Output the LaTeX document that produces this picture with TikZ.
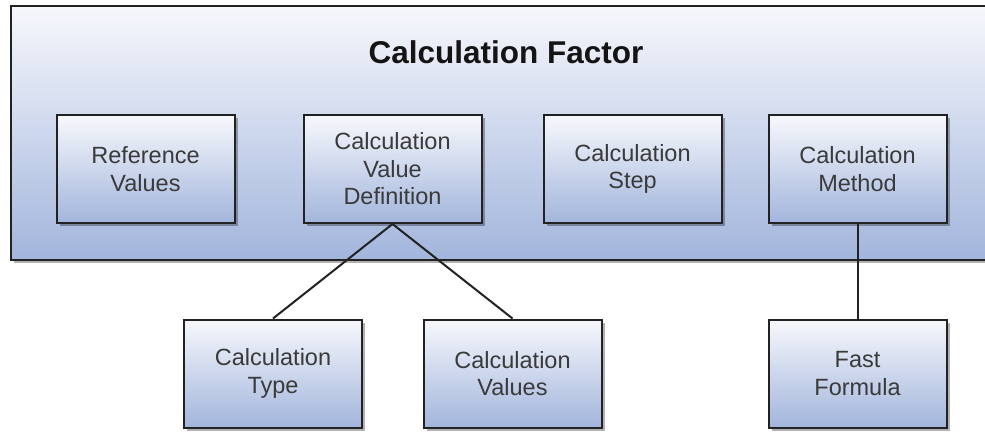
\documentclass[tikz,border=0pt]{standalone}
\usepackage{fontspec}
\setmainfont{Liberation Sans}
\usetikzlibrary{shadows}
\definecolor{topc}{HTML}{F7F8FC}
\definecolor{botc}{HTML}{A2B5DC}
\definecolor{edgec}{HTML}{222222}
\definecolor{txtc}{HTML}{3A3A3A}
\begin{document}
\begin{tikzpicture}[x=1pt,y=-1pt,
  blk/.style={rectangle, draw=edgec, line width=2pt, top color=topc, bottom color=botc,
    minimum width=178pt, minimum height=108pt, align=center, text=txtc,
    font=\fontsize{23.5}{27.5}\selectfont, inner sep=0pt,
    drop shadow={shadow xshift=3pt, shadow yshift=-3pt, fill=black, opacity=0.3}},
  conn/.style={draw=edgec, line width=2pt}]
\clip (0,0) rectangle (985,436);
\fill[white] (0,0) rectangle (985,436);
% outer box
\node[rectangle, draw=edgec, line width=2pt, top color=topc, bottom color=botc,
  minimum width=990pt, minimum height=254pt, inner sep=0pt, anchor=north west,
  drop shadow={shadow xshift=3pt, shadow yshift=-3pt, fill=black, opacity=0.3}]
  (outer) at (10,5) {};
\node[font=\bfseries\fontsize{31.5}{36}\selectfont, text=black!92] (title) at (506,52) {Calculation Factor};
% inner nodes
\node[blk] (ref) at (145.5,169) {Reference\\Values};
\node[blk] (cvd) at (392.5,169) {Calculation\\Value\\Definition};
\node[blk] (step) at (632.5,169) {Calculation\\Step};
\node[blk] (meth) at (857.5,169) {Calculation\\Method};
\node[blk] (ctype) at (273,373.5) {Calculation\\Type};
\node[blk] (cval) at (512.5,373.5) {Calculation\\Values};
\node[blk] (fast) at (857.5,373.5) {Fast\\Formula};
% connectors
\draw[conn] (cvd.south) -- (ctype.north);
\draw[conn] (cvd.south) -- (cval.north);
\draw[conn] (meth.south) -- (fast.north);
\end{tikzpicture}
\end{document}
